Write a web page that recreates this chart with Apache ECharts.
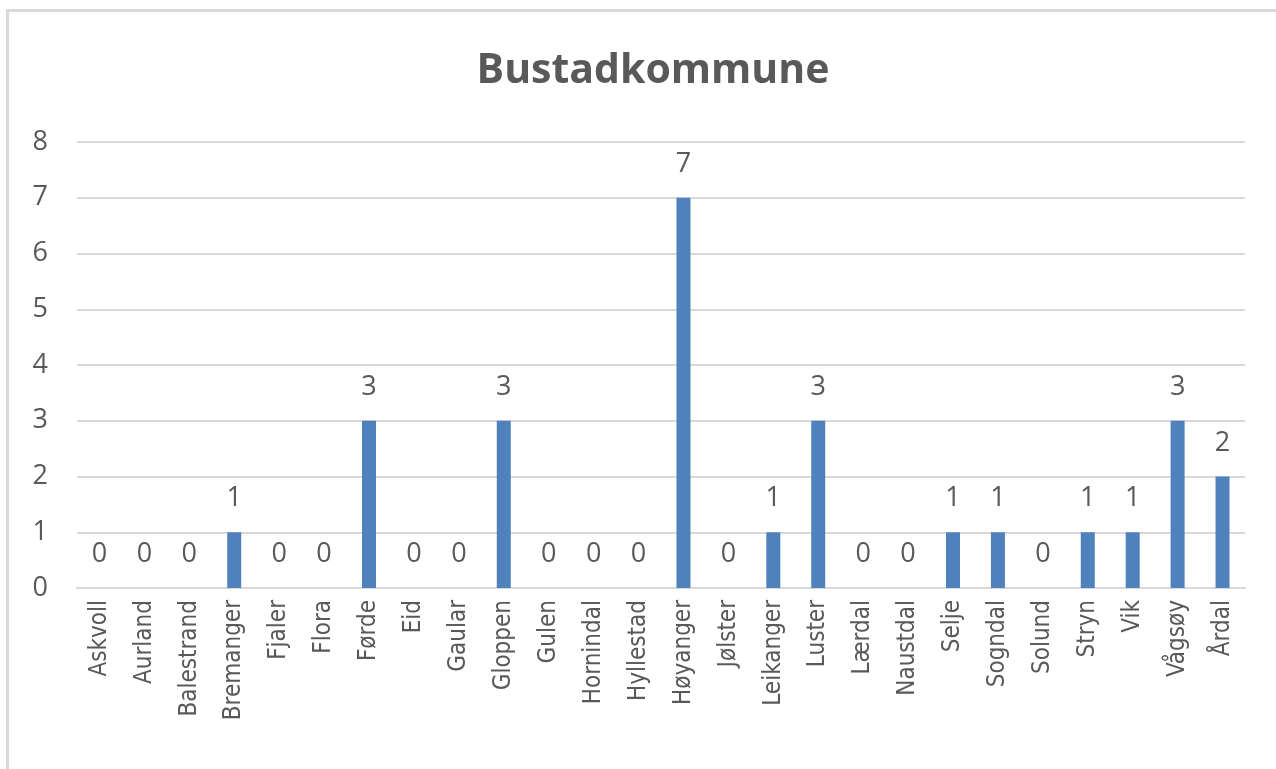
<!DOCTYPE html>
<html lang="nn">

<head>
    <meta charset="UTF-8">
    <title>Bustadkommune</title>
    <script src="https://cdn.jsdelivr.net/npm/echarts@6/dist/echarts.min.js"></script>
    <style>
        html, body { margin: 0; padding: 0; background: #fff; }
        #chart { width: 1276px; height: 769px; }
    </style>
</head>

<body>
    <div id="chart"></div>
    <script>
        var kommunar = ['Askvoll', 'Aurland', 'Balestrand', 'Bremanger', 'Fjaler', 'Flora', 'Førde', 'Eid', 'Gaular',
            'Gloppen', 'Gulen', 'Hornindal', 'Hyllestad', 'Høyanger', 'Jølster', 'Leikanger', 'Luster', 'Lærdal',
            'Naustdal', 'Selje', 'Sogndal', 'Solund', 'Stryn', 'Vik', 'Vågsøy', 'Årdal'];
        var antal = [0, 0, 0, 1, 0, 0, 3, 0, 0, 3, 0, 0, 0, 7, 0, 1, 3, 0, 0, 1, 1, 0, 1, 1, 3, 2];

        var fontFamily = '"Open Sans", "Liberation Sans", sans-serif';
        var narrowFont = '"Liberation Sans Narrow", "DejaVu Sans Condensed", sans-serif';
        var textColor = '#595959';

        var chart = echarts.init(document.getElementById('chart'));
        chart.setOption({
            backgroundColor: '#fff',
            animation: false,
            title: {
                text: 'Bustadkommune',
                left: 648,
                textAlign: 'center',
                top: 46,
                textStyle: {
                    fontFamily: fontFamily,
                    fontSize: 41,
                    fontWeight: 'bold',
                    color: textColor
                }
            },
            graphic: [{
                type: 'polyline',
                shape: { points: [[7.5, 769], [7.5, 10.5], [1276, 10.5]] },
                style: { stroke: '#d9d9d9', lineWidth: 3, fill: null }
            }],
            grid: {
                left: 77,
                right: 31,
                top: 142,
                bottom: 181
            },
            xAxis: {
                type: 'category',
                data: kommunar,
                axisTick: { show: false },
                axisLine: { lineStyle: { color: '#d9d9d9', width: 2 } },
                axisLabel: {
                    rotate: 90,
                    interval: 0,
                    margin: 12,
                    fontFamily: narrowFont,
                    fontSize: 24,
                    color: textColor
                }
            },
            yAxis: {
                type: 'value',
                min: 0,
                max: 8,
                interval: 1,
                axisLine: { show: false },
                axisTick: { show: false },
                axisLabel: {
                    margin: 29,
                    fontFamily: fontFamily,
                    fontSize: 27,
                    color: textColor
                },
                splitLine: { lineStyle: { color: '#d9d9d9', width: 2 } }
            },
            series: [{
                type: 'bar',
                data: antal,
                barWidth: 14,
                itemStyle: { color: '#4f81bd' },
                label: {
                    show: true,
                    position: 'top',
                    distance: 20,
                    fontFamily: fontFamily,
                    fontSize: 27,
                    color: textColor
                }
            }]
        });
    </script>
</body>

</html>
